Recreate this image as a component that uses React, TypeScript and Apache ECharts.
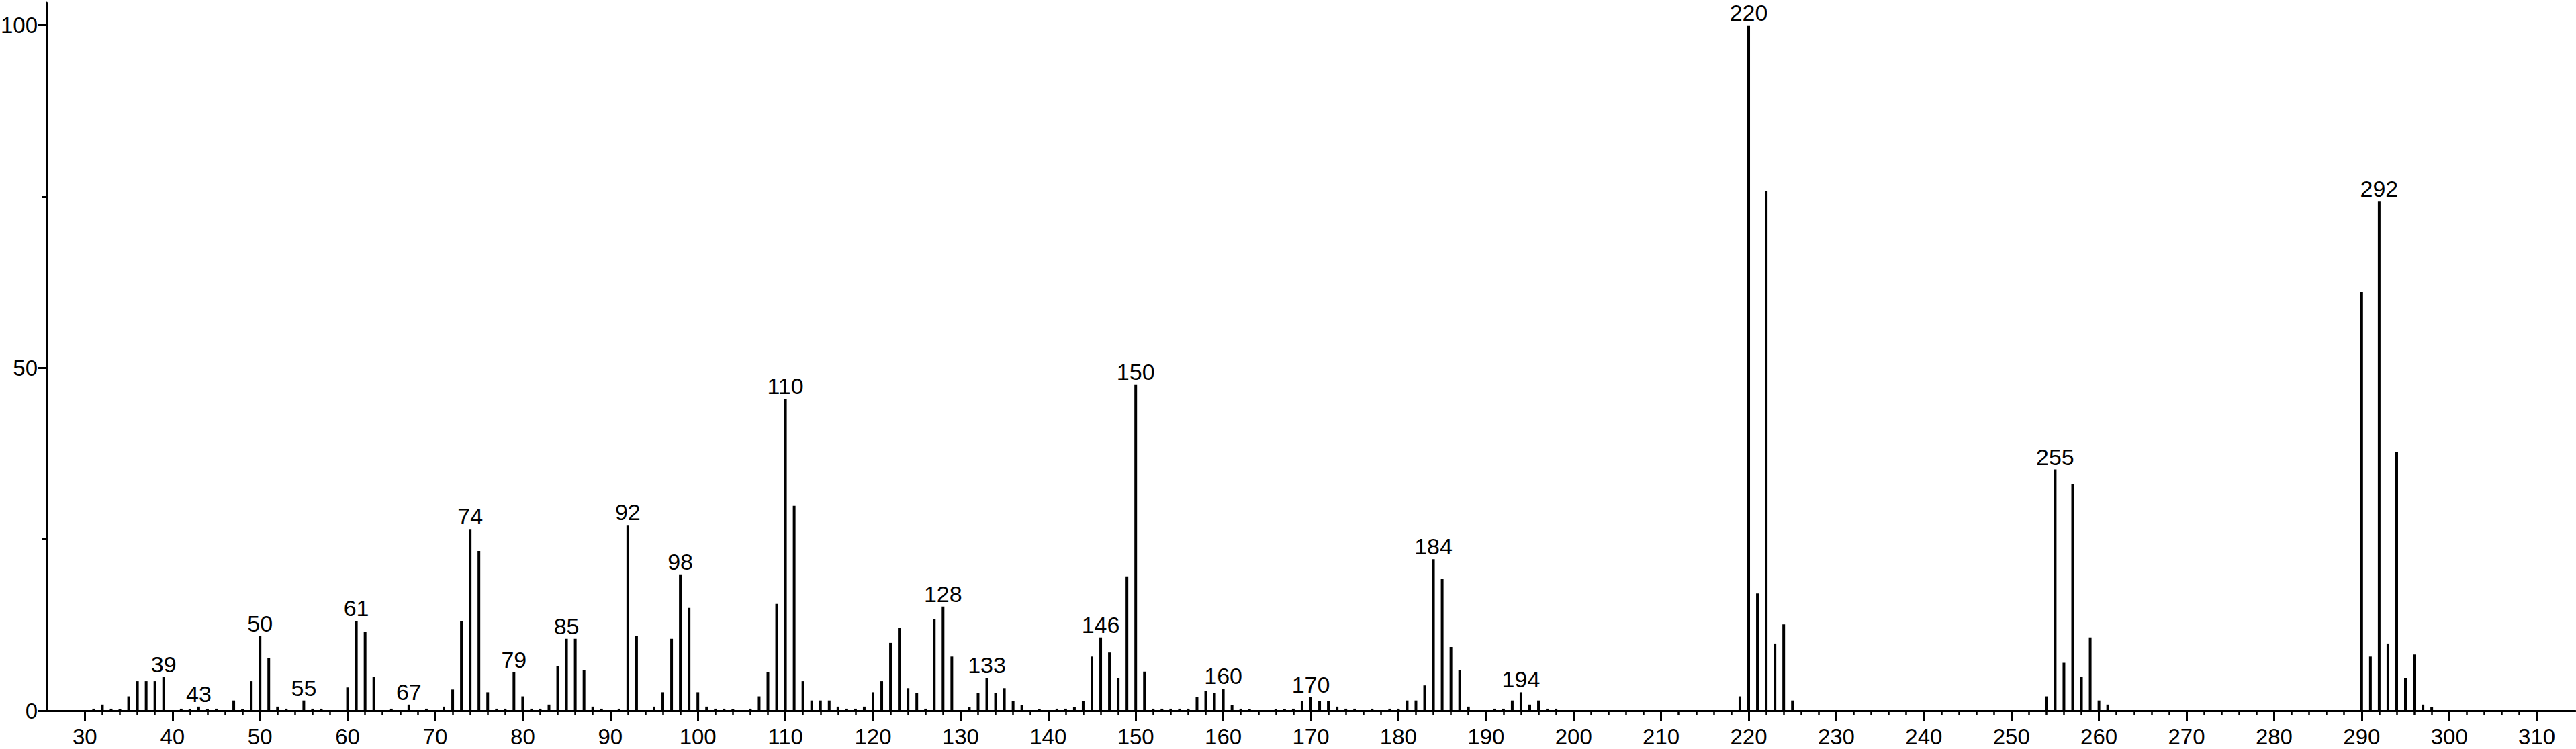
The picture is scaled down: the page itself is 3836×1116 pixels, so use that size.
import React, { useEffect, useRef } from "react";
import * as echarts from "echarts";

// m/z values of the spectrum peaks
const MZ = [
  31, 32, 33, 34, 35, 36, 37, 38, 39, 41, 42, 43, 44, 45, 47, 48, 49, 50, 51, 52, 53, 55, 56, 57,
  60, 61, 62, 63, 65, 67, 69, 71, 72, 73, 74, 75, 76, 77, 78, 79, 80, 81, 82, 83, 84, 85, 86, 87,
  88, 89, 91, 92, 93, 95, 96, 97, 98, 99, 100, 101, 102, 103, 104, 106, 107, 108, 109, 110, 111,
  112, 113, 114, 115, 116, 117, 118, 119, 120, 121, 122, 123, 124, 125, 126, 127, 128, 129, 131,
  132, 133, 134, 135, 136, 137, 139, 141, 142, 143, 144, 145, 146, 147, 148, 149, 150, 151, 152,
  153, 154, 155, 156, 157, 158, 159, 160, 161, 162, 163, 166, 167, 168, 169, 170, 171, 172, 173,
  174, 175, 177, 179, 180, 181, 182, 183, 184, 185, 186, 187, 188, 191, 192, 193, 194, 195, 196,
  197, 198, 219, 220, 221, 222, 223, 224, 225, 254, 255, 256, 257, 258, 259, 260, 261, 290, 291,
  292, 293, 294, 295, 296, 297, 298,
];

// relative intensities (%)
const INTENSITY = [
  0.3, 0.9, 0.3, 0.2, 2.1, 4.3, 4.3, 4.3, 4.9, 0.3, 0.2, 0.6, 0.2, 0.3, 1.5, 0.2, 4.3, 10.9, 7.7, 0.6, 0.3, 1.5, 0.3, 0.3,
  3.4, 13.1, 11.5, 4.9, 0.3, 0.9, 0.3, 0.6, 3.1, 13.1, 26.5, 23.3, 2.7, 0.3, 0.3, 5.6, 2.1, 0.3, 0.3, 0.9, 6.5, 10.5, 10.5, 5.9,
  0.6, 0.3, 0.3, 27.1, 10.9, 0.6, 2.7, 10.5, 19.9, 15.0, 2.7, 0.6, 0.3, 0.3, 0.2, 0.3, 2.1, 5.6, 15.6, 45.5, 29.9,
  4.3, 1.5, 1.5, 1.5, 0.6, 0.3, 0.3, 0.6, 2.7, 4.3, 9.9, 12.1, 3.3, 2.6, 0.3, 13.4, 15.2, 7.9, 0.5,
  2.6, 4.8, 2.6, 3.3, 1.4, 0.8, 0.2, 0.3, 0.3, 0.5, 1.4, 7.9, 10.7, 8.5, 4.8, 19.6, 47.6, 5.7, 0.3,
  0.3, 0.3, 0.3, 0.3, 2.0, 2.9, 2.6, 3.2, 0.8, 0.3, 0.2, 0.2, 0.2, 0.3, 1.4, 2.0, 1.4, 1.4, 0.6,
  0.3, 0.3, 0.3, 0.3, 0.3, 1.5, 1.5, 3.7, 22.1, 19.3, 9.3, 5.9, 0.6, 0.3, 0.3, 1.5, 2.7, 0.9, 1.5,
  0.3, 0.3, 2.1, 100, 17.1, 75.8, 9.8, 12.6, 1.5, 2.1, 35.2, 7.0, 33.1, 4.9, 10.7, 1.5, 0.9, 61.1, 7.9,
  74.3, 9.8, 37.7, 4.8, 8.2, 0.9, 0.5,
];

// peaks that carry an m/z annotation
const LABELED_PEAKS = [39, 43, 50, 55, 61, 67, 74, 79, 85, 92, 98, 110, 128, 133, 146, 150, 160, 170, 184, 194, 220, 255, 292];

const X_TICK_LABELS = [30, 40, 50, 60, 70, 80, 90, 100, 110, 120, 130, 140, 150, 160, 170, 180, 190, 200, 210, 220, 230, 240, 250, 260, 270, 280, 290, 300, 310];
const Y_TICK_LABELS = [0, 50, 100];
const Y_MINOR_TICKS = [25, 75];

export default function App() {
  const ref = useRef<HTMLDivElement>(null);
  useEffect(() => {
    const chart = echarts.init(ref.current!, null, { renderer: "svg" });
    const font = "'Liberation Sans', Arial, Helvetica, sans-serif";
    const minorX: number[] = [];
    for (let v = 32; v < 310; v += 2) if (v % 10 !== 0) minorX.push(v);
    const data = MZ.map((m, i) =>
      LABELED_PEAKS.includes(m)
        ? { value: [m, INTENSITY[i]], label: { show: true } }
        : { value: [m, INTENSITY[i]] }
    );
    const xMin = 25.6;
    const xMax = 314.4;
    const yMax = 103.3;
    chart.setOption({
      animation: false,
      backgroundColor: "#ffffff",
      grid: { left: 69, right: 1, top: 4, bottom: 57, outerBoundsMode: "none" },
      xAxis: [
        {
          type: "value",
          min: xMin,
          max: xMax,
          position: "bottom",
          axisLine: { show: true, lineStyle: { color: "#000", width: 3 } },
          axisTick: { show: true, customValues: X_TICK_LABELS, length: 15, lineStyle: { color: "#000", width: 3 } },
          axisLabel: { customValues: X_TICK_LABELS, margin: 22, fontSize: 33, color: "#000", fontFamily: font },
          splitLine: { show: false },
        },
        {
          type: "value",
          min: xMin,
          max: xMax,
          position: "bottom",
          axisLine: { show: false },
          axisTick: { show: true, customValues: minorX, length: 7, lineStyle: { color: "#000", width: 2.5 } },
          axisLabel: { show: false },
          splitLine: { show: false },
        },
      ],
      yAxis: [
        {
          type: "value",
          min: 0,
          max: yMax,
          position: "left",
          axisLine: { show: true, lineStyle: { color: "#000", width: 3 } },
          axisTick: { show: true, customValues: Y_TICK_LABELS, length: 12, lineStyle: { color: "#000", width: 3 } },
          axisLabel: { customValues: Y_TICK_LABELS, margin: 13, fontSize: 33, color: "#000", fontFamily: font },
          splitLine: { show: false },
        },
        {
          type: "value",
          min: 0,
          max: yMax,
          position: "left",
          axisLine: { show: false },
          axisTick: { show: true, customValues: Y_MINOR_TICKS, length: 6, lineStyle: { color: "#000", width: 3 } },
          axisLabel: { show: false },
          splitLine: { show: false },
        },
      ],
      series: [
        {
          type: "bar",
          xAxisIndex: 0,
          yAxisIndex: 0,
          barWidth: 4,
          itemStyle: { color: "#000" },
          label: {
            show: false,
            position: "top",
            distance: 2,
            fontSize: 34,
            color: "#000",
            fontFamily: font,
            formatter: (p: any) => String(p.value[0]),
          },
          data,
        },
      ],
    });
    return () => chart.dispose();
  }, []);
  return (
    <div
      ref={ref}
      style={{ position: "fixed", left: 0, top: 0, width: 3836, height: 1116, background: "#fff" }}
    />
  );
}
